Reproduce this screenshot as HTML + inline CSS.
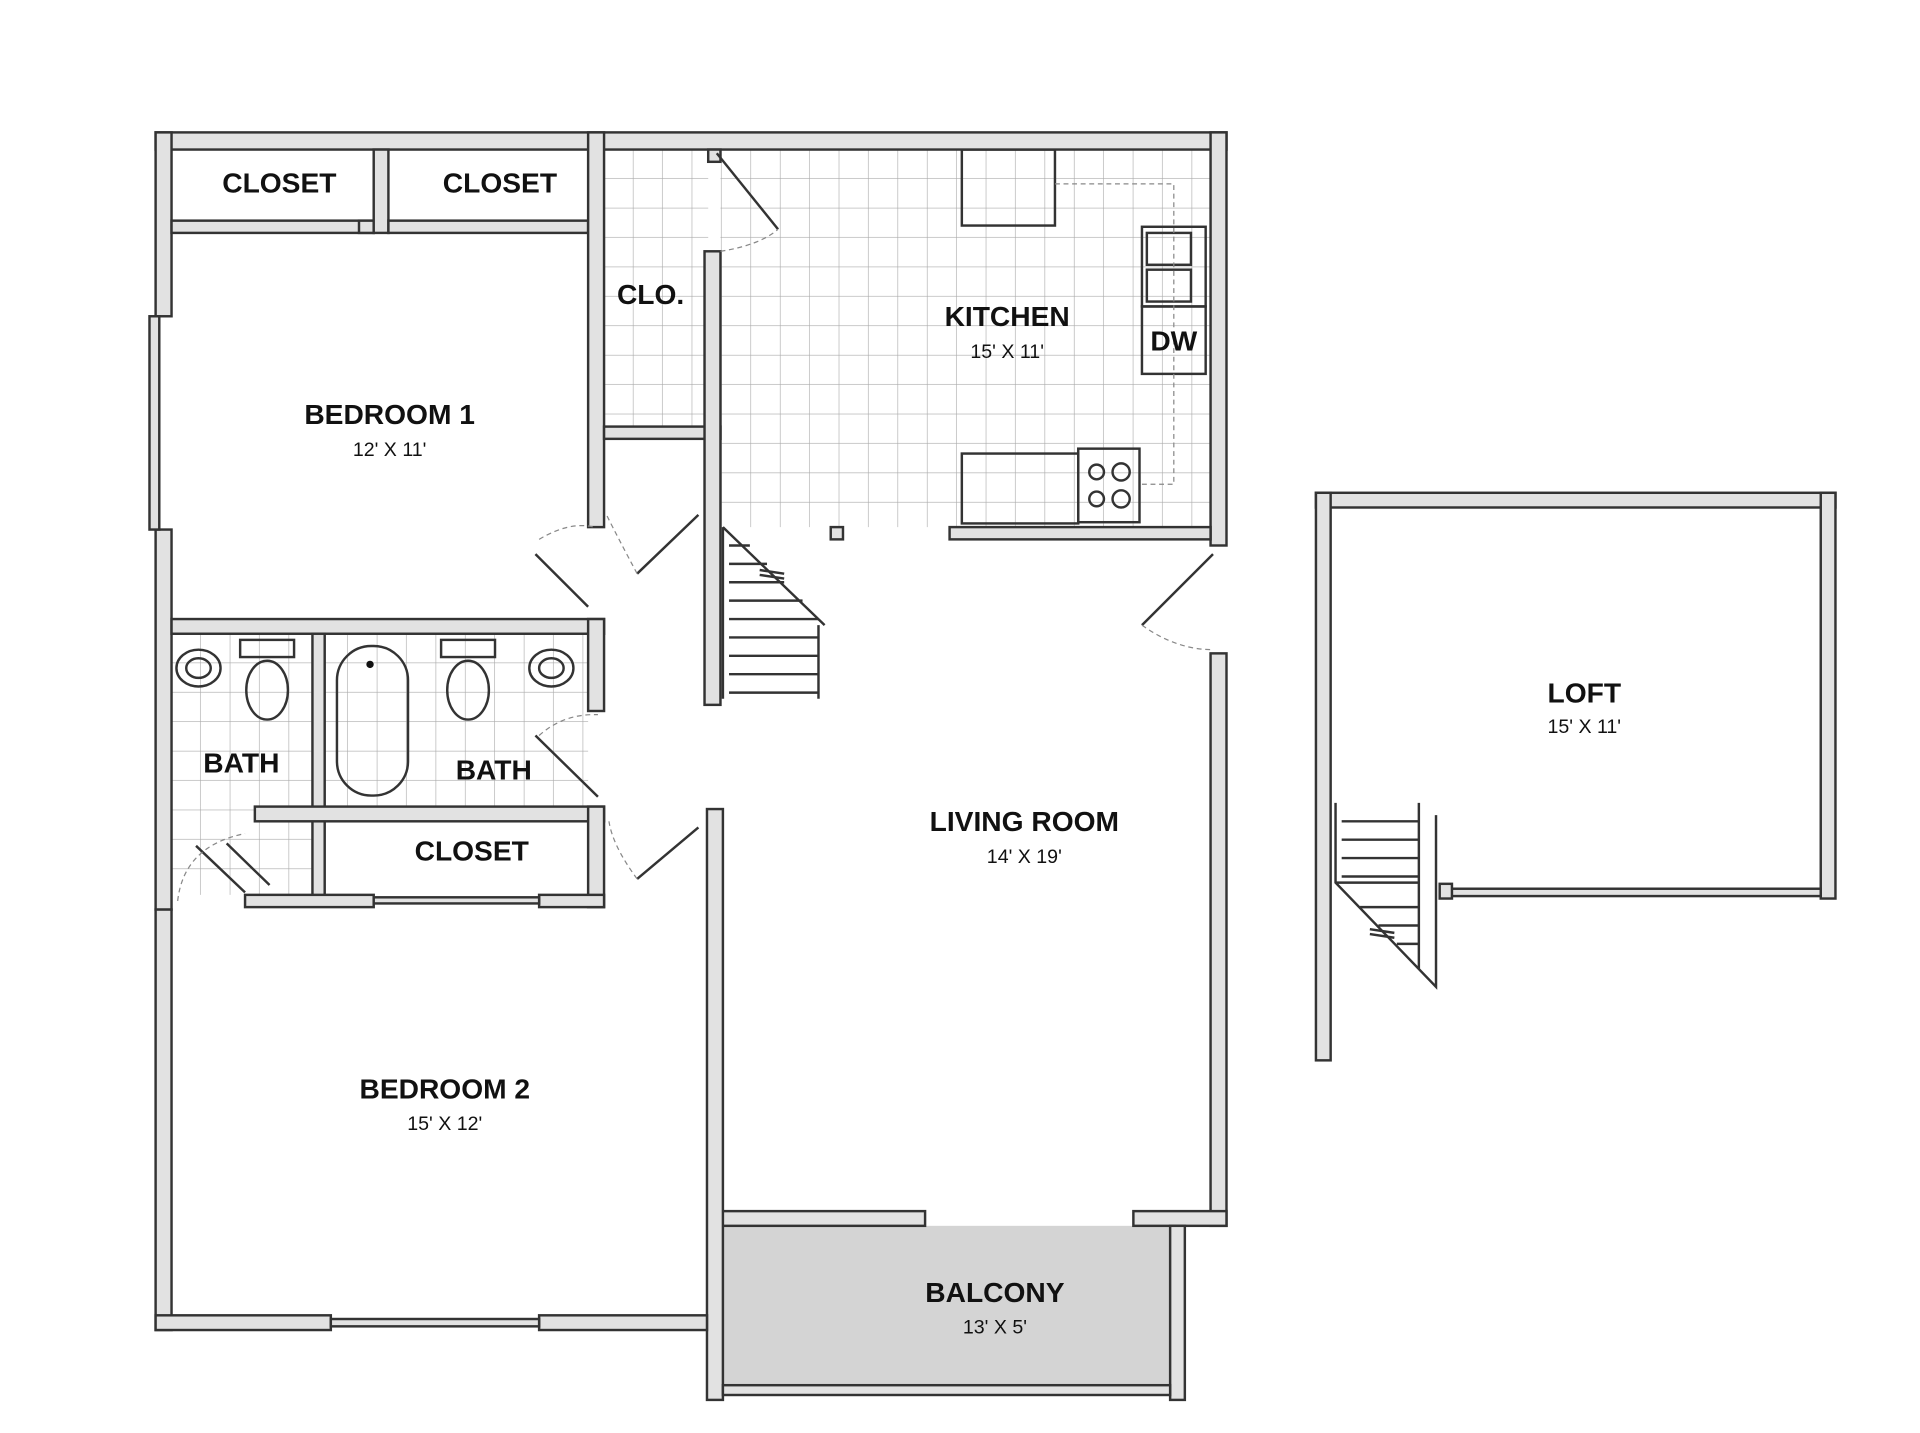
<!DOCTYPE html>
<html><head><meta charset="utf-8"><style>
html,body{margin:0;padding:0;background:#fff;width:1920px;height:1433px;overflow:hidden}
svg{display:block}
text{font-family:"Liberation Sans",sans-serif;fill:#111;text-anchor:middle}
.t{font-weight:bold;font-size:23px}
.d{font-size:16px}
.w{fill:#e2e2e2;stroke:#333;stroke-width:2}
.ln{stroke:#333;stroke-width:2;fill:none}
.ds{stroke:#888;stroke-width:1;fill:none;stroke-dasharray:4 3}
</style></head><body>
<svg width="1920" height="1433" viewBox="0 0 1567 1169" preserveAspectRatio="none">
<defs>
<pattern id="g" width="24" height="24" patternUnits="userSpaceOnUse" x="493" y="122">
<path d="M24 0V24M0 24H24" stroke="#aaa" stroke-width="1" fill="none"/></pattern>
<pattern id="g2" width="24" height="24" patternUnits="userSpaceOnUse" x="140" y="517">
<path d="M24 0V24M0 24H24" stroke="#aaa" stroke-width="1" fill="none"/></pattern>
</defs>
<rect x="493" y="122" width="85" height="226" fill="url(#g)"/>
<rect x="588" y="122" width="400" height="308" fill="url(#g)"/>
<rect x="140" y="517" width="340" height="141" fill="url(#g2)"/>
<rect x="140" y="658" width="115" height="72" fill="url(#g2)"/>
<rect x="590" y="1000" width="365" height="133" fill="#d4d4d4"/>
<rect x="785" y="122" width="76" height="62" fill="#fff" class="ln"/>
<rect x="785" y="370" width="95" height="57" fill="#fff" class="ln"/>
<rect x="880" y="366" width="50" height="60" fill="#fff" class="ln"/>
<circle cx="895" cy="385" r="6" class="ln"/><circle cx="915" cy="385" r="7" class="ln"/>
<circle cx="895" cy="407" r="6" class="ln"/><circle cx="915" cy="407" r="7" class="ln"/>
<rect x="932" y="185" width="52" height="65" fill="#fff" class="ln"/>
<rect x="936" y="190" width="36" height="26" class="ln"/><rect x="936" y="220" width="36" height="26" class="ln"/>
<rect x="932" y="250" width="52" height="55" fill="#fff" class="ln"/>
<path d="M861 150H958V395H930" class="ds"/>
<rect x="275" y="527" width="58" height="122" rx="28" fill="#fff" class="ln"/>
<circle cx="302" cy="542" r="3" fill="#111"/>
<ellipse cx="162" cy="545" rx="18" ry="15" fill="#fff" class="ln"/><ellipse cx="162" cy="545" rx="10" ry="8" class="ln"/>
<ellipse cx="450" cy="545" rx="18" ry="15" fill="#fff" class="ln"/><ellipse cx="450" cy="545" rx="10" ry="8" class="ln"/>
<rect x="196" y="522" width="44" height="14" fill="#fff" class="ln"/>
<ellipse cx="218" cy="563" rx="17" ry="24" fill="#fff" class="ln"/>
<rect x="360" y="522" width="44" height="14" fill="#fff" class="ln"/>
<ellipse cx="382" cy="563" rx="17" ry="24" fill="#fff" class="ln"/>
<rect x="127" y="108" width="874" height="14" class="w"/>
<rect x="127" y="108" width="13" height="150" class="w"/>
<rect x="127" y="432" width="13" height="310" class="w"/>
<rect x="127" y="742" width="13" height="343" class="w"/>
<rect x="988" y="108" width="13" height="337" class="w"/>
<rect x="988" y="533" width="13" height="467" class="w"/>
<rect x="925" y="988" width="76" height="12" class="w"/>
<rect x="588" y="988" width="167" height="12" class="w"/>
<rect x="577" y="660" width="13" height="482" class="w"/>
<rect x="955" y="1000" width="12" height="142" class="w"/>
<rect x="590" y="1130" width="365" height="8" class="w"/>
<rect x="127" y="1073" width="143" height="12" class="w"/>
<rect x="440" y="1073" width="137" height="12" class="w"/>
<rect x="270" y="1076" width="170" height="6" class="w"/>
<rect x="122" y="258" width="8" height="174" class="w"/>
<rect x="140" y="180" width="165" height="10" class="w"/>
<rect x="293" y="180" width="12" height="10" class="w"/>
<rect x="305" y="122" width="12" height="68" class="w"/>
<rect x="317" y="180" width="163" height="10" class="w"/>
<rect x="480" y="108" width="13" height="322" class="w"/>
<rect x="493" y="348" width="95" height="10" class="w"/>
<rect x="575" y="205" width="13" height="370" class="w"/>
<rect x="578" y="122" width="10" height="10" class="w"/>
<rect x="775" y="430" width="213" height="10" class="w"/>
<rect x="678" y="430" width="10" height="10" class="w"/>
<rect x="140" y="505" width="353" height="12" class="w"/>
<rect x="480" y="505" width="13" height="75" class="w"/>
<rect x="255" y="517" width="10" height="222" class="w"/>
<rect x="208" y="658" width="285" height="12" class="w"/>
<rect x="480" y="658" width="13" height="82" class="w"/>
<rect x="200" y="730" width="105" height="10" class="w"/>
<rect x="440" y="730" width="53" height="10" class="w"/>
<rect x="305" y="732" width="135" height="5" class="w"/>
<path d="M585 125L635 187" class="ln" stroke-width="5"/><path d="M588 205Q620 200 635 187" class="ds"/>
<path d="M480 495L437 452" class="ln" stroke-width="5"/><path d="M440 440Q465 425 485 430" class="ds"/>
<path d="M570 420L520 468" class="ln" stroke-width="5"/><path d="M520 468Q505 440 495 420" class="ds"/>
<path d="M488 650L437 600" class="ln" stroke-width="5"/><path d="M440 600Q460 582 488 583" class="ds"/>
<path d="M570 675L520 717" class="ln" stroke-width="5"/><path d="M520 717Q500 690 497 670" class="ds"/>
<path d="M990 452L932 510" class="ln" stroke-width="5"/><path d="M932 510Q960 530 990 530" class="ds"/>
<path d="M160 690L200 728M185 688L220 722" class="ln" stroke-width="5"/><path d="M145 735Q150 690 200 680" class="ds"/>
<path d="M590 430V570M668 510V570M590 430L673 510" class="ln"/>
<path d="M595 445H612M595 460H626M595 475H640M595 490H655M595 505H668M595 520H668M595 535H668M595 550H668M595 565H668" class="ln" stroke-width="1.5"/>
<path d="M620 465L640 468M620 469L640 472" class="ln"/>
<rect x="1074" y="402" width="424" height="12" class="w"/>
<rect x="1074" y="402" width="12" height="463" class="w"/>
<rect x="1486" y="402" width="12" height="331" class="w"/>
<rect x="1182" y="725" width="304" height="6" class="w"/>
<rect x="1175" y="721" width="10" height="12" class="w"/>
<path d="M1090 655V720L1172 805V665M1158 655V790M1090 720H1158" class="ln"/>
<path d="M1095 670H1158M1095 685H1158M1095 700H1158M1095 715H1158M1110 740H1158M1125 755H1158M1140 770H1158" class="ln" stroke-width="1.5"/>
<path d="M1118 758L1138 761M1118 762L1138 765" class="ln"/>
<text class="t" x="228" y="157">CLOSET</text>
<text class="t" x="408" y="157">CLOSET</text>
<text class="t" x="531" y="248">CLO.</text>
<text class="t" x="822" y="266">KITCHEN</text>
<text class="d" x="822" y="292">15' X 11'</text>
<text class="t" x="958" y="286">DW</text>
<text class="t" x="318" y="346">BEDROOM 1</text>
<text class="d" x="318" y="372">12' X 11'</text>
<text class="t" x="197" y="630">BATH</text>
<text class="t" x="403" y="636">BATH</text>
<text class="t" x="385" y="702">CLOSET</text>
<text class="t" x="836" y="678">LIVING ROOM</text>
<text class="d" x="836" y="704">14' X 19'</text>
<text class="t" x="363" y="896">BEDROOM 2</text>
<text class="d" x="363" y="922">15' X 12'</text>
<text class="t" x="812" y="1062">BALCONY</text>
<text class="d" x="812" y="1088">13' X 5'</text>
<text class="t" x="1293" y="573">LOFT</text>
<text class="d" x="1293" y="598">15' X 11'</text>
</svg>
</body></html>
